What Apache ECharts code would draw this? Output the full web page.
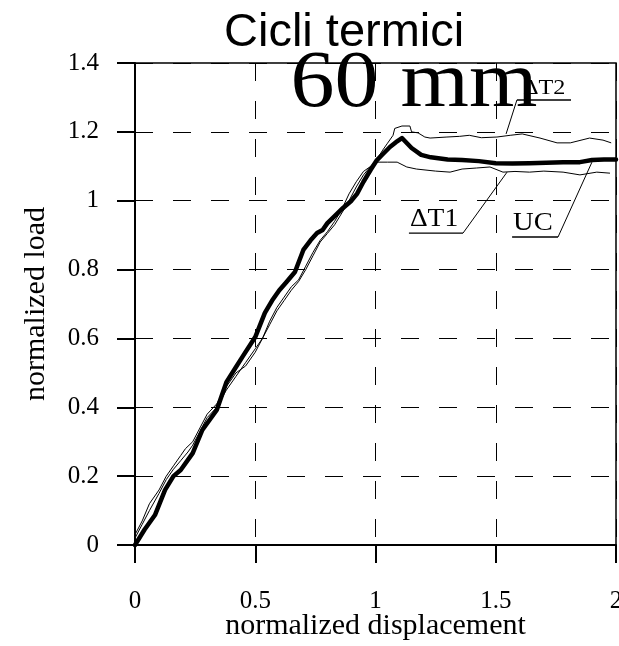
<!DOCTYPE html>
<html>
<head>
<meta charset="utf-8">
<script src="https://cdn.jsdelivr.net/npm/echarts@6/dist/echarts.min.js"></script>
<style>html,body{margin:0;padding:0;background:#fff;overflow:hidden;}#c{width:619px;height:646px;}</style>
</head>
<body>
<div id="c"></div>
<script>
// ---- data ----
var titleText = 'Cicli termici';
var subText = '60 mm';
var xName = 'normalized displacement';
var yName = 'normalized load';
var xTicks = [0, 0.5, 1, 1.5, 2];
var yTicks = [0, 0.2, 0.4, 0.6, 0.8, 1, 1.2, 1.4];

// UC (thick)
var ucX = [0, 0.04, 0.083, 0.125, 0.16, 0.19, 0.24, 0.28, 0.31, 0.34, 0.38, 0.42, 0.45, 0.5, 0.54, 0.57, 0.6, 0.63, 0.665, 0.70, 0.73, 0.757, 0.78, 0.80, 0.83, 0.865, 0.90, 0.923, 0.95, 0.98, 1.006, 1.03, 1.06, 1.085, 1.11, 1.15, 1.19, 1.23, 1.3, 1.36, 1.43, 1.5, 1.57, 1.64, 1.71, 1.78, 1.85, 1.9, 1.95, 2.0];
var ucY = [0, 0.045, 0.087, 0.16, 0.2, 0.218, 0.267, 0.334, 0.363, 0.392, 0.473, 0.517, 0.55, 0.604, 0.674, 0.71, 0.74, 0.764, 0.793, 0.857, 0.885, 0.906, 0.915, 0.935, 0.955, 0.979, 1.0, 1.02, 1.055, 1.09, 1.118, 1.135, 1.156, 1.17, 1.182, 1.153, 1.133, 1.126, 1.12, 1.118, 1.115, 1.109, 1.108, 1.109, 1.11, 1.112, 1.112, 1.118, 1.12, 1.12];

// ΔT1 (lower thin)
var t1X = [0, 0.03, 0.06, 0.1, 0.13, 0.16, 0.19, 0.22, 0.24, 0.27, 0.3, 0.34, 0.38, 0.42, 0.46, 0.5, 0.53, 0.56, 0.59, 0.62, 0.65, 0.68, 0.71, 0.74, 0.77, 0.8, 0.83, 0.865, 0.89, 0.92, 0.95, 0.98, 1.0, 1.05, 1.09, 1.13, 1.17, 1.21, 1.25, 1.31, 1.36, 1.42, 1.476, 1.53, 1.58, 1.64, 1.7, 1.78, 1.85, 1.92, 1.975];
var t1Y = [0.02, 0.06, 0.1, 0.15, 0.19, 0.22, 0.245, 0.27, 0.29, 0.33, 0.37, 0.40, 0.45, 0.49, 0.53, 0.57, 0.6, 0.64, 0.68, 0.71, 0.74, 0.765, 0.8, 0.84, 0.88, 0.905, 0.93, 0.97, 1.0, 1.04, 1.075, 1.1, 1.112, 1.112, 1.112, 1.098, 1.092, 1.089, 1.086, 1.083, 1.092, 1.095, 1.098, 1.083, 1.085, 1.083, 1.086, 1.083, 1.075, 1.083, 1.08];

// ΔT2 (upper thin)
var t2X = [0, 0.03, 0.06, 0.1, 0.13, 0.16, 0.19, 0.21, 0.24, 0.27, 0.3, 0.34, 0.38, 0.42, 0.46, 0.5, 0.53, 0.56, 0.59, 0.62, 0.65, 0.68, 0.71, 0.74, 0.77, 0.8, 0.83, 0.86, 0.89, 0.92, 0.95, 0.98, 1.01, 1.03, 1.05, 1.073, 1.08, 1.11, 1.143, 1.15, 1.177, 1.205, 1.227, 1.297, 1.35, 1.39, 1.44, 1.505, 1.56, 1.61, 1.684, 1.755, 1.81, 1.89, 1.946, 1.98];
var t2Y = [0.03, 0.07, 0.12, 0.16, 0.2, 0.23, 0.26, 0.28, 0.3, 0.34, 0.38, 0.41, 0.46, 0.5, 0.52, 0.56, 0.6, 0.65, 0.69, 0.72, 0.75, 0.77, 0.81, 0.85, 0.885, 0.91, 0.94, 0.975, 1.02, 1.055, 1.085, 1.1, 1.125, 1.147, 1.167, 1.19, 1.21, 1.217, 1.217, 1.2, 1.197, 1.185, 1.182, 1.185, 1.187, 1.19, 1.183, 1.185, 1.19, 1.194, 1.182, 1.168, 1.168, 1.182, 1.176, 1.168];

// annotations (data coordinates)
var annoText = ['\u0394T2', '\u0394T1', 'UC'];
var annoLineStartX = [1.588, 1.139, 1.568];
var annoLineEndX = [1.813, 1.364, 1.759];
var annoLineY = [1.2925, 0.906, 0.8946];
var annoLeadFromX = [1.588, 1.364, 1.759];
var annoLeadToX = [1.543, 1.547, 1.9];
var annoLeadToY = [1.194, 1.083, 1.112];
var annoFont = [22, 25, 26];
var annoTextShift = [6, 1, 1];

function pairs(xs, ys) { return xs.map(function (x, i) { return [x, ys[i]]; }); }
function fmt(v) { return String(+(+v).toFixed(2)); }

var serif = '"Liberation Serif", "Times New Roman", serif';
var chart = echarts.init(document.getElementById('c'), null, { renderer: 'canvas' });

var option = {
  backgroundColor: '#fff',
  animation: false,
  title: {
    text: titleText,
    left: 224, top: 10, padding: 0,
    textStyle: { fontFamily: '"Liberation Sans", Arial, sans-serif', fontSize: 47, fontWeight: 'normal', color: '#000' }
  },
  grid: { left: 135, right: 3, top: 63, bottom: 101, show: true, borderColor: '#000', borderWidth: 1.5, containLabel: false, outerBoundsMode: 'none' },
  xAxis: {
    type: 'value', min: xTicks[0], max: xTicks[xTicks.length - 1], interval: xTicks[1] - xTicks[0],
    name: xName, nameLocation: 'middle', nameGap: 66, nameMoveOverlap: false,
    nameTextStyle: { fontFamily: serif, fontSize: 30, color: '#000' },
    axisLine: { show: true, onZero: false, lineStyle: { color: '#000', width: 2 } },
    axisTick: { show: true, inside: false, length: 18, lineStyle: { color: '#000', width: 2 } },
    axisLabel: { margin: 44, fontFamily: serif, fontSize: 25, color: '#000', formatter: fmt, showMaxLabel: true },
    splitLine: { show: true, lineStyle: { color: '#000', width: 1, type: [18, 20] } }
  },
  yAxis: {
    type: 'value', min: yTicks[0], max: yTicks[yTicks.length - 1], interval: yTicks[1] - yTicks[0],
    name: yName, nameLocation: 'middle', nameGap: 84, nameRotate: 90, nameMoveOverlap: false,
    nameTextStyle: { fontFamily: serif, fontSize: 30, color: '#000' },
    axisLine: { show: true, onZero: false, lineStyle: { color: '#000', width: 2 } },
    axisTick: { show: true, inside: false, length: 18, lineStyle: { color: '#000', width: 2 } },
    axisLabel: { margin: 36, fontFamily: serif, fontSize: 25, color: '#000', formatter: fmt },
    splitLine: { show: true, lineStyle: { color: '#000', width: 1, type: [18, 20] } }
  },
  series: [
    { name: '\u0394T2', type: 'line', data: pairs(t2X, t2Y), showSymbol: false, symbol: 'none', lineStyle: { color: '#000', width: 1 }, z: 3 },
    { name: '\u0394T1', type: 'line', data: pairs(t1X, t1Y), showSymbol: false, symbol: 'none', lineStyle: { color: '#000', width: 1 }, z: 3 },
    { name: 'UC', type: 'line', data: pairs(ucX, ucY), showSymbol: false, symbol: 'none', lineStyle: { color: '#000', width: 4.5, join: 'round', cap: 'round' }, z: 4 }
  ]
};
chart.setOption(option);

function px(x, y) { return chart.convertToPixel({ gridIndex: 0 }, [x, y]); }
var g = [];
g.push({
  type: 'text', x: 414, y: 85, z: 10, scaleX: 1.1,
  style: { text: subText, font: '80px ' + serif, fill: '#000', align: 'center', verticalAlign: 'middle' }
});
for (var i = 0; i < annoText.length; i++) {
  var a = px(annoLineStartX[i], annoLineY[i]);
  var b = px(annoLineEndX[i], annoLineY[i]);
  var c = px(annoLeadFromX[i], annoLineY[i]);
  var d = px(annoLeadToX[i], annoLeadToY[i]);
  g.push({ type: 'line', z: 10, shape: { x1: a[0], y1: a[1], x2: b[0], y2: b[1] }, style: { stroke: '#000', lineWidth: 1.3 } });
  g.push({ type: 'line', z: 10, shape: { x1: c[0], y1: c[1], x2: d[0], y2: d[1] }, style: { stroke: '#000', lineWidth: 1 } });
  g.push({ type: 'text', z: 10, x: a[0] + annoTextShift[i], y: a[1] - 1, scaleX: 1.1,
    style: { text: annoText[i], font: annoFont[i] + 'px ' + serif, fill: '#000', align: 'left', verticalAlign: 'bottom' } });
}
chart.setOption({ graphic: g });
</script>
</body>
</html>
